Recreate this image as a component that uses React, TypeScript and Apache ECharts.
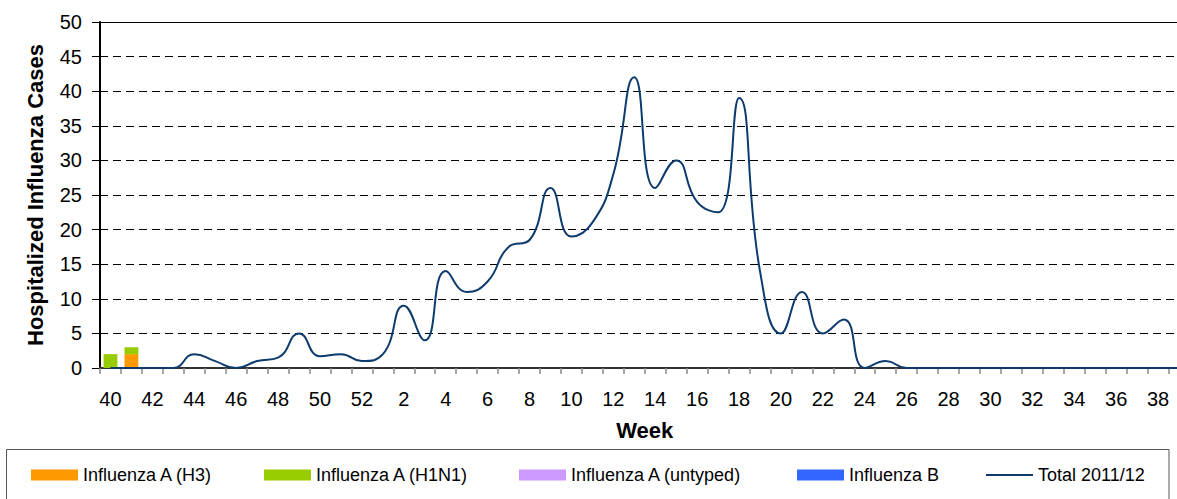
import React, { useEffect, useRef } from 'react';
import * as echarts from 'echarts';

const weeks = [
  '40', '41', '42', '43', '44', '45', '46', '47', '48', '49', '50', '51', '52',
  '1', '2', '3', '4', '5', '6', '7', '8', '9', '10', '11', '12', '13',
  '14', '15', '16', '17', '18', '19', '20', '21', '22', '23', '24', '25', '26',
  '27', '28', '29', '30', '31', '32', '33', '34', '35', '36', '37', '38', '39',
];

const fluAH3 = [
  0, 2, 0, 0, 0, 0, 0, 0, 0, 0, 0, 0, 0,
  0, 0, 0, 0, 0, 0, 0, 0, 0, 0, 0, 0, 0,
  0, 0, 0, 0, 0, 0, 0, 0, 0, 0, 0, 0, 0,
  0, 0, 0, 0, 0, 0, 0, 0, 0, 0, 0, 0, 0,
];

const fluAH1N1 = [
  2, 1, 0, 0, 0, 0, 0, 0, 0, 0, 0, 0, 0,
  0, 0, 0, 0, 0, 0, 0, 0, 0, 0, 0, 0, 0,
  0, 0, 0, 0, 0, 0, 0, 0, 0, 0, 0, 0, 0,
  0, 0, 0, 0, 0, 0, 0, 0, 0, 0, 0, 0, 0,
];

const fluAUntyped = [
  0, 0, 0, 0, 0, 0, 0, 0, 0, 0, 0, 0, 0,
  0, 0, 0, 0, 0, 0, 0, 0, 0, 0, 0, 0, 0,
  0, 0, 0, 0, 0, 0, 0, 0, 0, 0, 0, 0, 0,
  0, 0, 0, 0, 0, 0, 0, 0, 0, 0, 0, 0, 0,
];

const fluB = [
  0, 0, 0, 0, 0, 0, 0, 0, 0, 0, 0, 0, 0,
  0, 0, 0, 0, 0, 0, 0, 0, 0, 0, 0, 0, 0,
  0, 0, 0, 0, 0, 0, 0, 0, 0, 0, 0, 0, 0,
  0, 0, 0, 0, 0, 0, 0, 0, 0, 0, 0, 0, 0,
];

const total = [
  0, 0, 0, 0, 2, 1, 0, 1, 1.5, 5, 1.7, 2, 1,
  2, 9, 4, 14, 11, 12.5, 17.5, 18.5, 26, 19, 21, 28, 42,
  26, 30, 24, 22.5, 39, 14, 5, 11, 5, 7, 0, 1, 0,
  0, 0, 0, 0, 0, 0, 0, 0, 0, 0, 0, 0, 0,
];

const FONT = '"Liberation Sans", Arial, sans-serif';
const LINE_COLOR = '#0d3b6e';

export default function App() {
  const ref = useRef<HTMLDivElement>(null);

  useEffect(() => {
    const chart = echarts.init(ref.current as HTMLDivElement, null, { renderer: 'svg' });

    const legendBase = {
      top: 466,
      padding: 0,
      itemWidth: 47,
      itemHeight: 11,
      selectedMode: false,
      textStyle: { fontSize: 18, color: '#000', fontFamily: FONT },
    };

    chart.setOption({
      animation: false,
      backgroundColor: '#fff',
      textStyle: { fontFamily: FONT },
      grid: { left: 100, right: 10.5, top: 22, bottom: 131, containLabel: false },
      xAxis: [
        {
          type: 'category',
          data: weeks,
          boundaryGap: true,
          axisLine: { show: true, lineStyle: { color: '#333', width: 2 } },
          axisTick: { show: true, interval: 0, length: 6, lineStyle: { color: '#888', width: 1.5 } },
          axisLabel: { interval: 1, fontSize: 20, color: '#000', margin: 21, fontFamily: FONT },
          splitLine: { show: false },
          name: 'Week',
          nameLocation: 'middle',
          nameGap: 51,
          nameTextStyle: { fontSize: 22, fontWeight: 'bold', color: '#000', fontFamily: FONT },
        },
        {
          type: 'category',
          data: weeks,
          position: 'top',
          axisLine: { show: true, lineStyle: { color: '#000', width: 1 } },
          axisTick: { show: false },
          axisLabel: { show: false },
          splitLine: { show: false },
        },
      ],
      yAxis: {
        type: 'value',
        min: 0,
        max: 50,
        interval: 5,
        axisLine: { show: true, lineStyle: { color: '#000', width: 2 } },
        axisTick: { show: true, length: 8, lineStyle: { color: '#000', width: 1 } },
        axisLabel: { fontSize: 20, color: '#000', margin: 18, fontFamily: FONT },
        splitLine: { show: true, lineStyle: { color: '#000', type: [8, 5], width: 1 } },
        name: 'Hospitalized Influenza Cases',
        nameLocation: 'middle',
        nameRotate: 90,
        nameGap: 54,
        nameTextStyle: { fontSize: 22, fontWeight: 'bold', color: '#000', fontFamily: FONT },
      },
      legend: [
        { ...legendBase, left: 31, icon: 'rect', data: ['Influenza A (H3)'] },
        { ...legendBase, left: 264, icon: 'rect', data: ['Influenza A (H1N1)'] },
        { ...legendBase, left: 519, icon: 'rect', data: ['Influenza A (untyped)'] },
        { ...legendBase, left: 797, icon: 'rect', data: ['Influenza B'] },
        {
          ...legendBase,
          left: 986,
          icon: 'rect',
          itemHeight: 2,
          itemStyle: { color: LINE_COLOR },
          data: ['Total 2011/12'],
        },
      ],
      graphic: [
        {
          type: 'rect',
          shape: { x: 6.5, y: 449.5, width: 1162.5, height: 70 },
          style: { fill: 'none', stroke: '#555', lineWidth: 1 },
          z: -1,
        },
      ],
      series: [
        {
          name: 'Influenza A (H3)',
          type: 'bar',
          stack: 'flu',
          data: fluAH3,
          barWidth: '66%',
          itemStyle: { color: '#FF9900' },
        },
        {
          name: 'Influenza A (H1N1)',
          type: 'bar',
          stack: 'flu',
          data: fluAH1N1,
          barWidth: '66%',
          itemStyle: { color: '#99CC00' },
        },
        {
          name: 'Influenza A (untyped)',
          type: 'bar',
          stack: 'flu',
          data: fluAUntyped,
          barWidth: '66%',
          itemStyle: { color: '#CC99FF' },
        },
        {
          name: 'Influenza B',
          type: 'bar',
          stack: 'flu',
          data: fluB,
          barWidth: '66%',
          itemStyle: { color: '#3366FF' },
        },
        {
          name: 'Total 2011/12',
          type: 'line',
          data: total,
          smooth: 0.5,
          symbol: 'none',
          z: 5,
          lineStyle: { color: LINE_COLOR, width: 2 },
          itemStyle: { color: LINE_COLOR },
        },
      ],
    });

    return () => chart.dispose();
  }, []);

  return (
    <div
      style={{
        position: 'absolute',
        left: 0,
        top: 0,
        width: 1177,
        height: 499,
        overflow: 'hidden',
        background: '#fff',
      }}
    >
      <div ref={ref} style={{ width: 1200, height: 499 }} />
    </div>
  );
}
